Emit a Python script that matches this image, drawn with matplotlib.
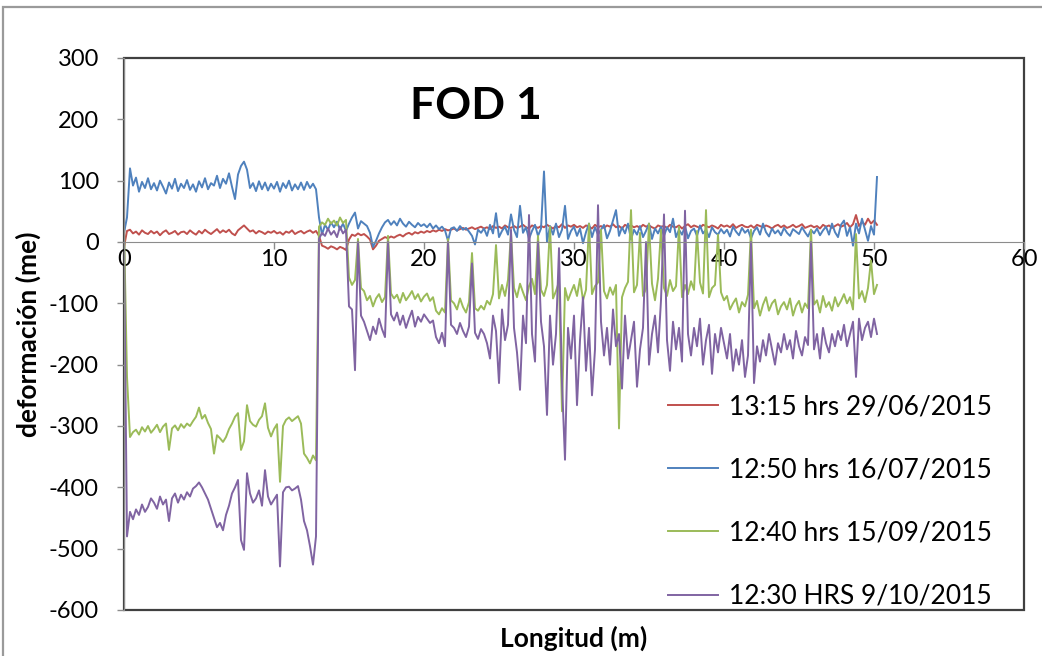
import numpy as np
import matplotlib
matplotlib.use("Agg")
import matplotlib.pyplot as plt
from matplotlib.patches import Rectangle

plt.rcParams['font.family'] = ['Lato', 'DejaVu Sans']
plt.rcParams['axes.unicode_minus'] = False

# sampling positions along the fibre (m), every 0.2 m
longitud = np.arange(252) * 0.2

labels = ["13:15 hrs 29/06/2015", "12:50 hrs 16/07/2015",
          "12:40 hrs 15/09/2015", "12:30 HRS 9/10/2015"]
colors = ["#C0504D", "#4F81BD", "#9BBB59", "#8064A2"]

# 13:15 hrs 29/06/2015
rojo = [
    -8, 18, 20, 14, 17, 12, 19, 15, 13, 18,
    14, 17, 11, 16, 19, 13, 15, 18, 12, 16,
    17, 13, 19, 15, 12, 18, 14, 20, 16, 13,
    17, 21, 15, 19, 16, 20, 14, 11, 19, 23,
    27, 22, 17, 19, 14, 18, 16, 13, 17, 15,
    18, 14, 16, 12, 17, 15, 19, 13, 16, 18,
    14, 17, 19, 15, 18, 10, -6, -8, -11, -7,
    -9, -12, -8, -10, -13, 4, 12, 10, 14, 11,
    13, 9, 4, -12, -6, 2, 5, 8, 6, 9,
    7, 10, 12, 9, 13, 15, 12, 16, 14, 17,
    15, 18, 16, 19, 17, 20, 18, 21, 19, 20,
    22, 19, 21, 23, 20, 22, 24, 21, 23, 25,
    22, 24, 21, 26, 23, 25, 22, 27, 24, 23,
    26, 23, 25, 28, 24, 22, 27, 25, 23, 26,
    24, 28, 25, 22, 26, 24, 29, 23, 27, 25,
    28, 24, 26, 23, 27, 25, 22, 28, 24, 26,
    23, 27, 25, 29, 24, 26, 22, 28, 25, 27,
    24, 26, 23, 28, 25, 27, 24, 22, 27, 25,
    26, 23, 28, 25, 24, 27, 22, 26, 29, 24,
    27, 25, 23, 28, 26, 24, 27, 25, 22, 28,
    25, 27, 24, 29, 23, 26, 28, 25, 24, 27,
    23, 28, 26, 24, 27, 25, 22, 26, 28, 24,
    27, 23, 25, 28, 24, 26, 29, 23, 25, 27,
    24, 26, 22, 28, 25, 27, 23, 26, 29, 25,
    27, 31, 24, 29, 44, 26, 33, 28, 38, 30,
    35, 28,
]

# 12:50 hrs 16/07/2015
azul = [
    15, 40, 120, 92, 105, 82, 98, 88, 104, 86,
    96, 84, 100, 90, 79, 97, 87, 103, 83, 95,
    88, 101, 85, 94, 82, 99, 89, 104, 86, 96,
    92, 108, 88, 103, 95, 112, 90, 70, 110, 124,
    131, 118, 88, 96, 83, 99, 86, 97, 84, 95,
    87, 98, 82, 96, 88, 100, 84, 94, 86, 97,
    85, 98, 88, 95, 86, 40, 12, 28, 20, 32,
    24, 33, 20, 30, 18, 30, 40, 48, 22, 34,
    30, 26, 15, -8, 2, 14, 24, 32, 36, 28,
    34, 27, 38, 30, 25, 33, 28, 24, 31, 26,
    29, 24, 30, 22, 27, 21, 25, 19, 2, 22,
    24, 18, 26, 20, 23, 17, 10, -4, 20, 15,
    22, 10, 28, 14, 47, 8, 18, 25, 12, 45,
    20, 8, 59, 15, 24, 5, 18, 28, 10, 22,
    115, 0, 26, 12, 30, 8, 20, 59, 5, 18,
    25, 10, 22, -2, 16, 30, 8, 24, 12, 20,
    28, 6, 18, 35, 52, 10, 24, 14, 30, 4,
    20, 12, 26, 8, 18, 30, 5, 22, 14, 25,
    10, 24, 16, 38, 8, 20, 12, 26, 6, 18,
    22, 10, 27, 14, 20, 8, 24, 16, 12, 21,
    14, 20, 9, 25, 17, 11, 23, 15, 20, 6,
    18, 24, 12, 30, 16, 9, 22, 14, 19, 11,
    23, 15, 10, 21, 17, 13, 24, 16, 9, 20,
    14, 22, 11, 19, 25, 12, 30, 16, 8, 28,
    35, 10, 24, -6, 30, 14, 38, 20, 2, 26,
    12, 106,
]

# 12:40 hrs 15/09/2015
verde = [
    25, -220, -318, -310, -306, -314, -302, -309, -300, -311,
    -305, -298, -310, -301, -296, -339, -304, -299, -307, -297,
    -303, -296, -300, -292, -285, -270, -288, -282, -295, -305,
    -345, -315, -320, -326, -318, -305, -296, -285, -279, -339,
    -325, -266, -292, -298, -301, -290, -284, -263, -303, -317,
    -305, -297, -391, -300, -290, -286, -292, -288, -284, -296,
    -345, -352, -361, -348, -356, 25, 32, 28, 38, 30,
    35, 27, 40, 31, 36, -58, -70, -62, 5, -75,
    -80, -95, -88, -105, -92, -85, -98, -90, 10, -84,
    -92, -86, -99, -83, -95, -88, -80, -93, -85, -97,
    -89, -84, -96, -90, -112, -118, -108, -115, 5, -95,
    -100, -110, -92, -106, -115, -98, -18, -108, -112, -104,
    -110, -96, -102, -85, -5, -92, -70, -88, -62, 15,
    -75, -90, -68, -82, -95, -72, -60, -85, 10, -78,
    -88, -70, 25, -92, -80, -65, -276, -75, -95, -82,
    -70, -88, -60, -95, -78, 30, -85, -72, -66, 20,
    -80, -92, -74, -86, -70, -304, -90, -75, -65, 52,
    -82, -70, 15, -88, -76, 30, -68, -95, -60, 20,
    -75, -88, -62, -80, -72, 25, -90, -70, -85, -64,
    -78, 18, -66, -84, 52, -90, -75, -70, 12, -82,
    -95, -88, -110, -100, -92, -115, -98, -105, -86, 20,
    -108, -96, -120, -102, -90, -112, -100, -94, -118, -105,
    -98, -110, -92, -120, -104, -96, -115, -100, -108, 20,
    -102, -95, -115, -88, -106, -98, -112, -90, -105, -96,
    -85, -100, -90, -110, 13, -92, -80, -98, -75, -30,
    -85, -70,
]

# 12:30 HRS 9/10/2015
morado = [
    0, -480, -440, -452, -436, -445, -428, -440, -432, -418,
    -425, -435, -415, -428, -420, -455, -418, -410, -425, -412,
    -420, -408, -415, -402, -398, -392, -400, -410, -420, -435,
    -450, -465, -458, -470, -445, -430, -410, -400, -388, -486,
    -502, -377, -410, -425, -418, -405, -430, -372, -415, -428,
    -420, -412, -529, -408, -400, -399, -405, -402, -398, -420,
    -455, -470, -496, -526, -480, 5, 15, 10, 22, 12,
    18, 8, 25, 14, 20, -105, -110, -209, 0, -120,
    -130, -145, -160, -138, -150, -125, -142, -155, 0, -118,
    -128, -115, -135, -120, -140, -125, -112, -138, -122, -130,
    -118, -125, -132, -128, -155, -165, -148, -170, 0, -135,
    -140, -150, -132, -145, -155, -138, -35, -148, -158, -142,
    -150, -165, -190, -120, -145, -230, -110, -160, -135, 20,
    -140, -180, -241, -120, -165, 44, -150, -195, 0, -130,
    -170, -282, -120, -200, -150, -10, -230, -355, -140, -190,
    -120, -266, -160, -90, -210, -140, -250, -175, 60, -130,
    -185, -140, -200, -110, -170, -150, -239, -120, -190, -160,
    -130, -236, -175, -140, 0, -200, -150, -120, -180, -95,
    45, -160, -210, -130, -175, -140, -195, 51, -150, -185,
    -140, -170, -125, -200, -160, -135, -215, -150, -180, -140,
    -165, -190, -150, -210, -175, -200, -160, -220, -185, 0,
    -230, -170, -195, -160, -185, -150, -175, -200, -165, -180,
    -150, -175, -160, -190, -145, -170, -185, -155, -168, 0,
    -175, -150, -190, -140, -165, -180, -150, -170, -145, -160,
    -135, -170, -150, -130, -220, -125, -160, -140, -130, -155,
    -125, -150,
]

series = [rojo, azul, verde, morado]

fig = plt.figure(figsize=(10.42, 6.56), dpi=100)
W, H = 1042, 656
ax = fig.add_axes([124 / W, 1 - 610 / H, 900 / W, 552 / H])

for vals, c, lab in zip(series, colors, labels):
    ax.plot(longitud, vals, color=c, lw=1.4, label=lab)

ax.set_xlim(0, 60)
ax.set_ylim(-600, 300)
ax.set_xticks(range(0, 61, 10))
ax.set_yticks(range(-600, 301, 100))

# horizontal axis crosses at zero, like the spreadsheet original
ax.spines['bottom'].set_position(('data', 0))
ax.spines['bottom'].set_color('#8c8c8c')
ax.spines['left'].set_color('#8c8c8c')
for s in ['top', 'right']:
    ax.spines[s].set_visible(False)
ax.add_patch(Rectangle((0, 0), 1, 1, transform=ax.transAxes, fill=False,
                       edgecolor='#404040', lw=1.6, clip_on=False, zorder=0.5))
ax.tick_params(axis='both', colors='#8c8c8c', labelcolor='black',
               labelsize=17, length=5, width=1)
ax.tick_params(axis='y', pad=13)
ax.tick_params(axis='x', pad=0)

ax.set_ylabel('deformación (me)', fontsize=19, fontweight='bold')
ax.yaxis.set_label_coords(-0.092, 0.5)
fig.text(574 / W, 1 - 638 / H, 'Longitud (m)', fontsize=19, fontweight='bold',
         ha='center', va='center')

ax.text(0.391, 0.913, 'FOD 1', transform=ax.transAxes, fontsize=32,
        fontweight='bold', ha='center', va='center')

leg = ax.legend(loc='upper left', bbox_to_anchor=(668 / W, 1 - 394 / H),
                bbox_transform=fig.transFigure, frameon=False, fontsize=19,
                handlelength=1.9, handletextpad=0.4, labelspacing=1.45,
                borderpad=0, borderaxespad=0)
for h in leg.get_lines():
    h.set_linewidth(1.4)

# outer chart border (cropped at right/bottom in the original)
fig.patches.append(Rectangle((3 / W, -0.1), 1.2, (656 - 7) / H + 0.1,
                             transform=fig.transFigure, fill=False,
                             edgecolor='#9a9a9a', lw=1.6))

fig.savefig('out.png', dpi=100)
